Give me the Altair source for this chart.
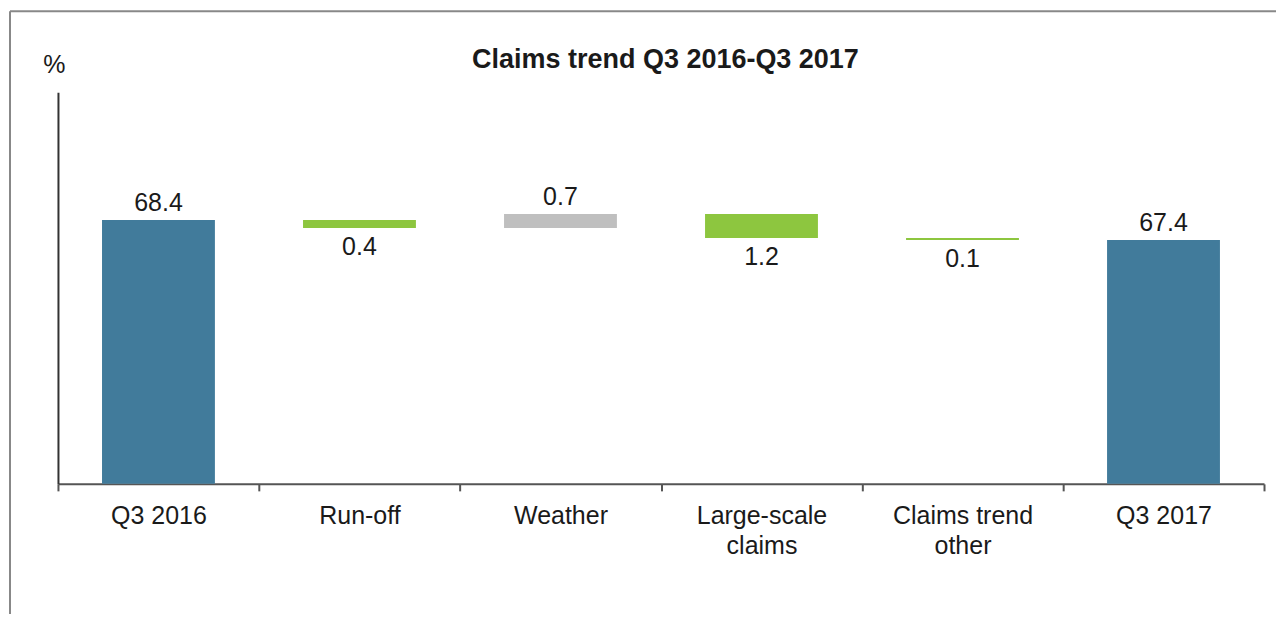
import altair as alt
import pandas as pd

title_text = "Claims trend Q3 2016-Q3 2017"
categories = ["Q3 2016", "Run-off", "Weather", "Large-scale claims", "Claims trend other", "Q3 2017"]
values = [68.4, -0.4, 0.7, -1.2, -0.1, 67.4]
kinds = ["total", "delta", "delta", "delta", "delta", "total"]
label_lines = {"Large-scale claims": ["Large-scale", "claims"],
               "Claims trend other": ["Claims trend", "other"]}

rows = []
running = 0.0
for c, v, k in zip(categories, values, kinds):
    if k == "total":
        start, end = 0.0, v
        running = v
        color = "total"
        above = True
    else:
        start, end = running, running + v
        running = end
        color = "up" if v > 0 else "down"
        above = v > 0
    rows.append({"cat": c, "start": start, "end": end, "kind": color,
                 "label": f"{abs(v):.1f}",
                 "top": max(start, end), "bottom": min(start, end) if k != "total" else 0.0,
                 "above": above})
df = pd.DataFrame(rows)
df["ly"] = df.apply(lambda r: r["top"] if r["above"] else r["bottom"], axis=1)

font = "Liberation Sans"
expr_parts = []
for k, lines in label_lines.items():
    expr_parts.append(f"datum.label == '{k}' ? {lines!r}".replace('"', "'"))
label_expr = " : ".join(expr_parts) + " : datum.label"

ydom = [55.2, 74.8]
xenc = alt.X("cat:N", sort=categories, title=None,
             scale=alt.Scale(paddingInner=0, paddingOuter=0),
             axis=alt.Axis(tickBand="extent", labelFontSize=25, labelFont=font,
                           labelColor="#1a1a1a", labelAngle=0, labelPadding=13,
                           labelLineHeight=30, labelExpr=label_expr,
                           tickSize=7, tickWidth=2, tickColor="#555555",
                           domainColor="#555555", domainWidth=2))

base = alt.Chart(df)

bars = base.mark_bar(width=alt.RelativeBandSize(0.5616)).encode(
    x=xenc,
    y=alt.Y("start:Q", scale=alt.Scale(domain=ydom, nice=False, zero=False, clamp=True),
            title="%",
            axis=alt.Axis(labels=False, ticks=False, grid=False, domainColor="#333333",
                          domainWidth=2, titleAngle=0, titleX=-4, titleY=-20,
                          titleAlign="center", titleBaseline="alphabetic",
                          titleFont=font, titleFontSize=25, titleFontWeight="normal",
                          titleColor="#1a1a1a")),
    y2="end:Q",
    color=alt.Color("kind:N", scale=alt.Scale(domain=["total", "up", "down"],
                                              range=["#417b9b", "#bfbfbf", "#8dc63f"]),
                    legend=None),
)

txt_above = base.transform_filter("datum.above").mark_text(
    font=font, fontSize=25, color="#1a1a1a", baseline="alphabetic", dy=-9
).encode(x=alt.X("cat:N", sort=categories), y="ly:Q", text="label:N")

txt_below = base.transform_filter("!datum.above").mark_text(
    font=font, fontSize=25, color="#1a1a1a", baseline="alphabetic", dy=27
).encode(x=alt.X("cat:N", sort=categories), y="ly:Q", text="label:N")

one = alt.Chart(pd.DataFrame({"t": [title_text]}))
title_mark = one.mark_text(font=font, fontSize=27, fontWeight="bold", color="#1a1a1a",
                           align="center", baseline="alphabetic").encode(
    x=alt.value(608), y=alt.value(-24), text="t:N")
border_left = one.mark_rule(color="#888888", strokeWidth=2).encode(
    x=alt.value(-48), y=alt.value(-81), y2=alt.value(528))
border_top = one.mark_rule(color="#888888", strokeWidth=2).encode(
    x=alt.value(-48), x2=alt.value(1230), y=alt.value(-81))

chart = alt.layer(bars, txt_above, txt_below, title_mark, border_left, border_top).properties(
    width=1207, height=392,
    autosize=alt.AutoSizeParams(type="none"),
    padding={"left": 50, "top": 84, "right": 12, "bottom": 130},
).configure_view(stroke=None)

chart.save("out.html", embed_options={"renderer": "svg", "actions": False})
